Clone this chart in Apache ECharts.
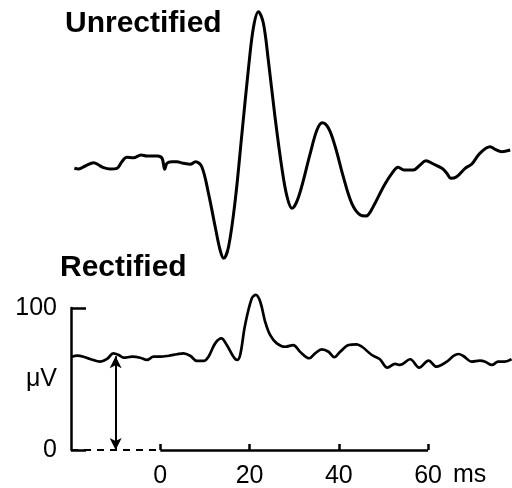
<!DOCTYPE html>
<html lang="en">
<head>
    <meta charset="UTF-8">
    <title>Unrectified / Rectified EMG</title>
    <script src="https://cdn.jsdelivr.net/npm/echarts@6/dist/echarts.min.js"></script>
    <style>
        html, body { margin: 0; padding: 0; background: #fff; }
    </style>
</head>
<body>
    <div id="box" style="width: 512px; height: 488px;"></div>
    <script>
        // time axis (ms) of the unrectified trace
        var rawTimes = [-19.25, -18.3, -16.8, -14.9, -13.8, -12.7, -11.2, -9.7, -8.6, -7.5, -6.0, -4.3, -3.0, -0.6,
            0.4, 1.0, 1.5, 2.6, 3.7, 5.2, 6.7, 7.9, 9.3, 10.8, 12.3, 13.4, 14.2, 15.3, 16.8, 18.3, 19.8, 20.9,
            22.0, 23.1, 24.2, 25.7, 27.2, 28.4, 29.5, 31.0, 33.6, 35.1, 36.3, 37.7, 39.2, 41.0, 42.9,
            44.8, 46.1, 47.7, 50.0, 51.9, 53.3, 54.6, 56.7, 58.2, 59.5, 61.2, 63.1, 64.2, 65.1, 66.4, 68.3,
            69.8, 71.6, 73.9, 75.0, 76.5, 78.4];
        // unrectified trace, arbitrary units (baseline = 0)
        var rawValues = [-1.3, -2, 1, 4.3, 2, -0.7, -2, -1.3, 5.3, 9.7, 9.3, 12, 11, 11,
            8.7, -2.3, 3.7, 5.3, 5.3, 3.7, 2.7, 5.3, 0.3, -26.3, -59.7, -83, -91.3, -79.7, -33, 33.7, 100.3, 140.3,
            155.3, 143.7, 107, 50.3, 0.3, -29.7, -41.3, -29.7, 13.7, 37, 44.3, 38.7, 20.3, -9.7, -36.3,
            -48, -49, -39.7, -19.7, -6.3, -0.3, -3, -3, 2, 6.3, 3, -1.3, -6.3, -11.3, -9.7, -1.3,
            3, 13.7, 20.3, 17.7, 15.3, 17];

        // rectified trace (µV)
        var rectTimes = [-19.8, -18.6, -17.2, -15.7, -13.4, -11.9, -10.5, -9.3, -8.2, -6.3, -4.5, -3.0, -1.5, 0,
            1.9, 3.7, 5.2, 6.7, 8.2, 9.7, 10.8, 12.3, 13.7, 14.9, 16.4, 17.2, 17.9, 19.0, 20.5, 21.4, 22.4,
            23.5, 24.6, 26.1, 28.0, 29.8, 31.3, 33.4, 34.7, 36.2, 37.7, 39.0, 40.3, 42.2, 44.0, 45.2, 47.4,
            49.2, 50.9, 52.6, 53.7, 56.0, 58.0, 60.1, 61.9, 64.2, 65.7, 66.8, 67.9, 69.8, 71.6, 72.8, 74.3,
            75.7, 77.2, 78.7];
        var rectValues = [65.7, 66.4, 65.7, 64.1, 62.2, 64.1, 68.1, 66.9, 65.0, 65.7, 65.0, 63.4, 65.7, 65.7,
            66.4, 67.4, 68.1, 66.4, 62.7, 62.7, 65.7, 75.1, 78.6, 73.9, 65.7, 63.4, 66.9, 88.0, 106.8, 109.2, 104.4,
            90.3, 81.0, 75.1, 72.7, 73.9, 69.2, 64.6, 68.1, 70.9, 69.2, 65.3, 69.2, 73.9, 74.4, 72.7, 66.9,
            63.9, 58.0, 60.6, 59.9, 63.9, 58.0, 63.0, 58.7, 62.2, 66.2, 67.6, 66.2, 62.2, 62.9, 62.2, 59.9,
            62.2, 62.2, 63.9];

        var xTicks = [0, 20, 40, 60];
        var xStart = -20;       // left end of the recording (ms)
        var xEnd = 78.8;        // right end of the recording (ms)
        var yTicks = [0, 100];
        var arrowAt = -10;      // ms, where the baseline level is marked
        var baselineLevel = 66; // µV

        var font = 'Liberation Sans';
        var myEcharts = echarts.init(document.getElementById('box'));

        function pairs(xs, ys) {
            return xs.map(function (x, i) { return [x, ys[i]]; });
        }

        var option = {
            animation: false,
            backgroundColor: '#fff',
            title: [
                { text: 'Unrectified', left: 65, top: 9, padding: 0, textStyle: { fontFamily: font, fontSize: 30, fontWeight: 'bold', color: '#000' } },
                { text: 'Rectified', left: 60, top: 253, padding: 0, textStyle: { fontFamily: font, fontSize: 30, fontWeight: 'bold', color: '#000' } },
                { text: 'ms', left: 453, top: 463, padding: 0, textStyle: { fontFamily: font, fontSize: 25, fontWeight: 'normal', color: '#000' } }
            ],
            grid: [
                { left: 71, width: 441, top: 0, height: 270, outerBoundsMode: 'none' },
                { left: 71, width: 441, top: 308, bottom: 38, outerBoundsMode: 'none' }
            ],
            xAxis: [
                { gridIndex: 0, type: 'value', min: xStart, max: xEnd, show: false },
                {
                    gridIndex: 1, type: 'value', min: xStart, max: xEnd, interval: 20,
                    axisLine: { show: false },
                    axisTick: { show: true, inside: true, length: 6, customValues: xTicks, lineStyle: { color: '#000', width: 2.5 } },
                    axisLabel: {
                        margin: 14, fontFamily: font, fontSize: 25, color: '#000', customValues: xTicks
                    },
                    splitLine: { show: false }
                }
            ],
            yAxis: [
                { gridIndex: 0, type: 'value', min: -103, max: 167, show: false },
                {
                    gridIndex: 1, type: 'value', min: yTicks[0], max: yTicks[1], interval: 100,
                    axisLine: { show: true, onZero: false, lineStyle: { color: '#000', width: 2.5 } },
                    axisTick: { show: true, inside: true, length: 15, lineStyle: { color: '#000', width: 2.5 } },
                    axisLabel: { margin: 14, fontFamily: font, fontSize: 25, color: '#000' },
                    splitLine: { show: false },
                    name: 'μV', nameLocation: 'middle', nameRotate: 0, nameGap: 14, nameMoveOverlap: false,
                    nameTextStyle: { fontFamily: font, fontSize: 25, color: '#000', padding: [0, 0, 10, 0] }
                }
            ],
            series: [
                {
                    type: 'line', xAxisIndex: 0, yAxisIndex: 0, clip: false,
                    data: pairs(rawTimes, rawValues), smooth: 0.35, showSymbol: false,
                    lineStyle: { color: '#000', width: 3 }
                },
                {
                    type: 'line', xAxisIndex: 1, yAxisIndex: 1, clip: false,
                    data: pairs(rectTimes, rectValues), smooth: 0.35, showSymbol: false,
                    lineStyle: { color: '#000', width: 2.7 },
                    markLine: {
                        silent: true, symbol: 'none', label: { show: false },
                        data: [
                            [{ coord: [xTicks[0], 0], lineStyle: { type: 'solid', width: 2.5, color: '#000' } },
                             { coord: [xTicks[xTicks.length - 1], 0] }],
                            [{ coord: [xStart, 0], lineStyle: { type: [7, 6], width: 2, color: '#000' } },
                             { coord: [xTicks[0], 0] }],
                            [{ coord: [arrowAt, 0], symbol: 'arrow', symbolSize: [9, 12], lineStyle: { type: 'solid', width: 2, color: '#000' } },
                             { coord: [arrowAt, baselineLevel], symbol: 'arrow', symbolSize: [9, 12] }]
                        ]
                    }
                }
            ]
        };
        myEcharts.setOption(option);
    </script>
</body>
</html>
